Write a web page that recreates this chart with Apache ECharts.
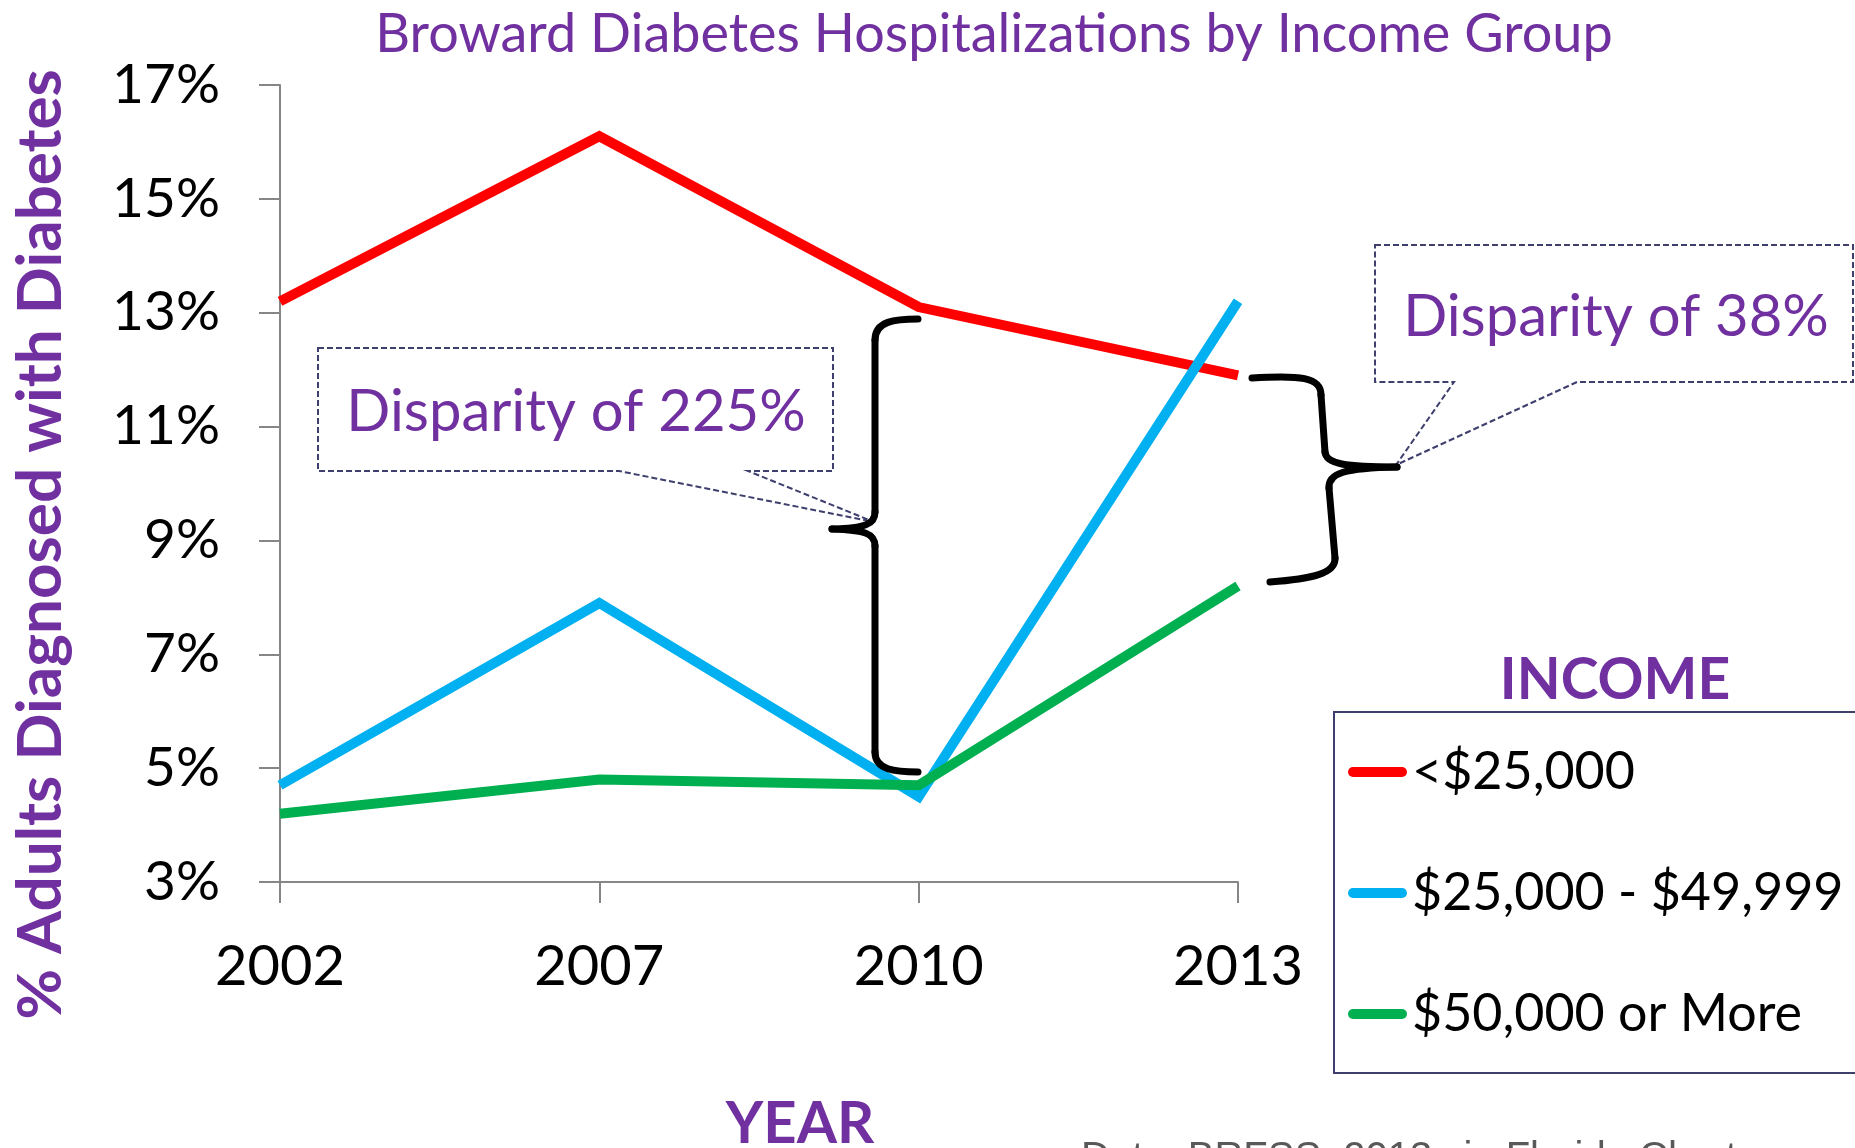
<!DOCTYPE html>
<html>
<head>
<meta charset="utf-8">
<title>Broward Diabetes Hospitalizations by Income Group</title>
<script src="https://cdn.jsdelivr.net/npm/echarts@6/dist/echarts.min.js"></script>
<style>
  html, body { margin: 0; padding: 0; background: #fff; }
  #chart { width: 1855px; height: 1148px; }
</style>
</head>
<body>
<div id="chart"></div>
<script>
// survey years
var years = ['2002', '2007', '2010', '2013']
// % adults diagnosed with diabetes, per income group
var under25k = [13.2, 16.1, 13.1, 11.9]
var from25to50k = [4.7, 7.9, 4.5, 13.2]
var over50k = [4.2, 4.8, 4.7, 8.2]
var seriesNames = ['<$25,000', '$25,000 - $49,999', '$50,000 or More']
var seriesColors = ['#FF0000', '#00B0F0', '#00B050']
var yTicks = [3, 5, 7, 9, 11, 13, 15, 17]

var purple = '#7030A0'
var axisGrey = '#868686'
var calloutStroke = '#3F3F6E'
var font = 'Lato'
var capsule = 'path://M5,0L54,0A5,5,0,0,1,54,10L5,10A5,5,0,0,1,5,0Z'

var chart = echarts.init(document.getElementById('chart'))

function braceParts(segs) {
  return segs.map(function (s) {
    var shape = s.length === 4
      ? { type: 'line', shape: { x1: s[0], y1: s[1], x2: s[2], y2: s[3] } }
      : { type: 'bezierCurve', shape: { x1: s[0], y1: s[1], cpx1: s[2], cpy1: s[3], cpx2: s[4], cpy2: s[5], x2: s[6], y2: s[7] } }
    shape.style = { stroke: '#000', lineWidth: 7, lineCap: 'round', fill: 'none' }
    shape.z = 10
    return shape
  })
}

var leftBrace = braceParts([
  [918, 319, 895, 319, 875, 321, 875, 340],
  [875, 340, 875, 512],
  [875, 512, 875, 524, 866, 528, 832, 529],
  [832, 529, 866, 530, 875, 534, 875, 546],
  [875, 546, 875, 752],
  [875, 752, 875, 770, 895, 772, 918, 772]
])
var rightBrace = braceParts([
  [1252, 378, 1300, 375, 1321, 377, 1321, 395],
  [1321, 395, 1325, 452],
  [1325, 452, 1326, 464, 1345, 467, 1397, 467],
  [1397, 467, 1345, 468, 1328, 473, 1329, 488],
  [1329, 488, 1335, 558],
  [1335, 558, 1336, 574, 1310, 579, 1270, 582]
])

var callouts = [
  {
    type: 'polygon', z: 10,
    shape: { points: [[318, 348], [833, 348], [833, 471], [748, 471], [874, 522], [619, 471], [318, 471]] },
    style: { fill: 'none', stroke: calloutStroke, lineWidth: 2, lineDash: [6, 3] }
  },
  {
    type: 'polygon', z: 10,
    shape: { points: [[1375, 245], [1853, 245], [1853, 382], [1577, 382], [1396, 465], [1454, 382], [1375, 382]] },
    style: { fill: 'none', stroke: calloutStroke, lineWidth: 2, lineDash: [6, 3] }
  },
  {
    type: 'text', z: 11, x: 576, y: 412,
    style: { text: 'Disparity of 225%', fill: purple, font: '58px Lato', align: 'center', verticalAlign: 'middle' }
  },
  {
    type: 'text', z: 11, x: 1616, y: 317,
    style: { text: 'Disparity of 38%', fill: purple, font: '58px Lato', align: 'center', verticalAlign: 'middle' }
  }
]

chart.setOption({
  backgroundColor: '#fff',
  animation: false,
  title: [
    {
      text: 'Broward Diabetes Hospitalizations by Income Group',
      left: 994, top: 8, textAlign: 'center', padding: 0,
      textStyle: { fontFamily: font, fontSize: 54, fontWeight: 'normal', color: purple }
    },
    {
      text: 'INCOME',
      left: 1615, top: 652, textAlign: 'center', padding: 0,
      textStyle: { fontFamily: font, fontSize: 57, fontWeight: 'bold', color: purple }
    },
    {
      text: 'Data: BRFSS, 2013 via Florida Charts',
      left: 1081, top: 1139, padding: 0,
      textStyle: { fontFamily: 'Liberation Sans', fontSize: 40, fontWeight: 'normal', color: '#595959' }
    }
  ],
  legend: {
    orient: 'vertical',
    left: 1334,
    top: 712,
    padding: [34, 29, 33, 14],
    itemGap: 69,
    itemWidth: 59,
    itemHeight: 10,
    icon: capsule,
    borderColor: calloutStroke,
    borderWidth: 2,
    textStyle: { fontFamily: font, fontSize: 52, color: '#000' },
    data: seriesNames
  },
  grid: {
    left: 280,
    right: 617,
    top: 85,
    bottom: 266,
    containLabel: false,
    outerBoundsMode: 'none'
  },
  xAxis: {
    type: 'category',
    data: years,
    boundaryGap: false,
    name: 'YEAR',
    nameLocation: 'middle',
    nameGap: 213,
    nameTextStyle: { fontFamily: font, fontSize: 58, fontWeight: 'bold', color: purple, padding: [0, 0, 0, 82] },
    axisLine: { lineStyle: { color: axisGrey, width: 2 } },
    axisTick: { length: 21, lineStyle: { color: axisGrey, width: 2 } },
    axisLabel: { fontFamily: font, fontSize: 56, color: '#000', margin: 57 },
    splitLine: { show: false }
  },
  yAxis: {
    type: 'value',
    min: 3,
    max: 17,
    name: '% Adults Diagnosed with Diabetes',
    nameLocation: 'middle',
    nameGap: 208,
    nameTextStyle: { fontFamily: font, fontSize: 62, fontWeight: 'bold', color: purple, padding: [0, 122, 0, 0] },
    axisLine: { show: true, lineStyle: { color: axisGrey, width: 2 } },
    axisTick: { show: true, length: 21, customValues: yTicks, lineStyle: { color: axisGrey, width: 2 } },
    axisLabel: { fontFamily: font, fontSize: 55, color: '#000', margin: 60, customValues: yTicks, formatter: '{value}%' },
    splitLine: { show: false }
  },
  series: [
    { name: seriesNames[0], data: under25k, color: seriesColors[0] },
    { name: seriesNames[1], data: from25to50k, color: seriesColors[1] },
    { name: seriesNames[2], data: over50k, color: seriesColors[2] }
  ].map(function (s) {
    return {
      name: s.name,
      type: 'line',
      data: s.data,
      symbol: 'none',
      itemStyle: { color: s.color },
      lineStyle: { color: s.color, width: 10, join: 'miter' }
    }
  }),
  graphic: callouts.concat(leftBrace, rightBrace)
})
</script>
</body>
</html>
